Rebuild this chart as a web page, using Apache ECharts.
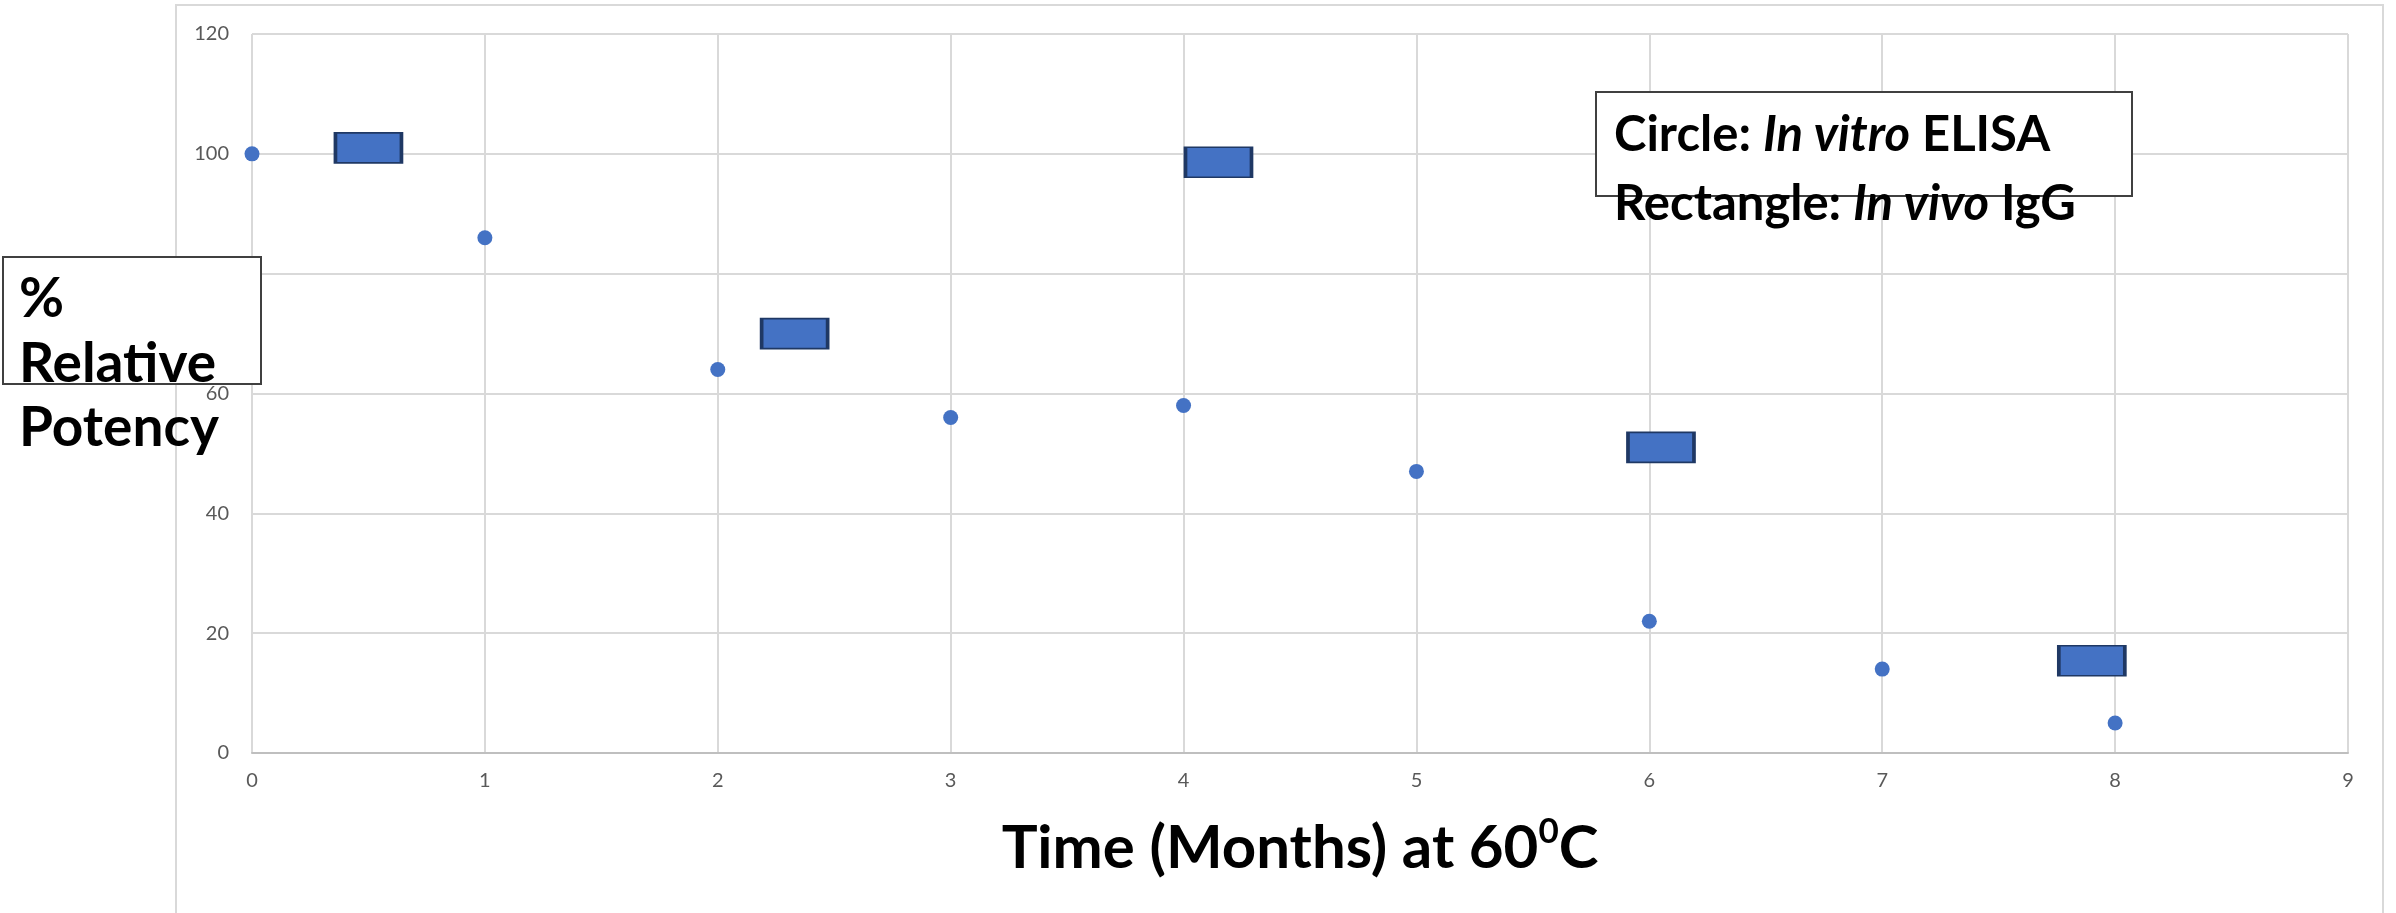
<!DOCTYPE html>
<html>
<head>
<meta charset="utf-8">
<script src="https://cdn.jsdelivr.net/npm/echarts@6/dist/echarts.min.js"></script>
<style>
html,body{margin:0;padding:0;background:#fff;}
#chart{width:2396px;height:913px;}
</style>
</head>
<body>
<div id="chart"></div>
<script>
// Data
const elisaMonths = [0, 1, 2, 3, 4, 5, 6, 7, 8];
const elisaPotency = [100, 86, 64, 56, 58, 47, 22, 14, 5];
const iggMonths = [0.5, 2.33, 4.15, 6.05, 7.9];
const iggPotency = [101, 70, 98.6, 51, 15.4];
const xTicks = [0, 1, 2, 3, 4, 5, 6, 7, 8, 9];
const yTicks = [0, 20, 40, 60, 80, 100, 120];
const xTitle = ['Time (Months) at 60', '0', 'C'];
const yTitleLines = ['%', 'Relative', 'Potency'];
const legendLines = [
  ['Circle: ', 'In vitro', ' ELISA'],
  ['Rectangle: ', 'In vivo', ' IgG']
];

const chart = echarts.init(document.getElementById('chart'));
const FONT = 'Lato, "Open Sans", sans-serif';

const option = {
  backgroundColor: '#fff',
  animation: false,
  grid: { left: 252, top: 34, right: 48, bottom: 160, containLabel: false },
  xAxis: {
    type: 'value',
    min: xTicks[0], max: xTicks[xTicks.length - 1], interval: 1,
    axisLine: { show: true, lineStyle: { color: '#bfbfbf', width: 2 } },
    axisTick: { show: false },
    splitLine: { show: true, lineStyle: { color: '#d9d9d9', width: 2 } },
    axisLabel: { color: '#595959', fontSize: 20, margin: 18, fontFamily: FONT },
    name: '{b|' + xTitle[0] + '}{s|' + xTitle[1] + '}{b|' + xTitle[2] + '}',
    nameLocation: 'middle',
    nameGap: 61,
    nameTextStyle: {
      rich: {
        b: { fontSize: 60, fontWeight: 'bold', color: '#000', fontFamily: FONT, lineHeight: 70 },
        s: { fontSize: 35, fontWeight: 'bold', color: '#000', fontFamily: FONT, verticalAlign: 'top', lineHeight: 70, padding: [0, 0, 26, 0] }
      }
    }
  },
  yAxis: {
    type: 'value',
    min: yTicks[0], max: yTicks[yTicks.length - 1], interval: 20,
    axisLine: { show: false },
    axisTick: { show: false },
    splitLine: { show: true, lineStyle: { color: '#d9d9d9', width: 2 } },
    axisLabel: { color: '#595959', fontSize: 20, margin: 23, fontFamily: FONT }
  },
  series: [
    {
      name: 'In vitro ELISA',
      type: 'scatter',
      symbol: 'circle',
      symbolSize: 15,
      itemStyle: { color: '#4472C4', opacity: 1 },
      data: elisaMonths.map((m, i) => [m, elisaPotency[i]]),
      z: 3
    },
    {
      name: 'In vivo IgG',
      type: 'scatter',
      symbol: 'rect',
      symbolSize: [66, 30],
      itemStyle: { color: '#4472C4', borderColor: '#1F3864', borderWidth: 2.5, opacity: 1 },
      data: iggMonths.map((m, i) => [m, iggPotency[i]]),
      z: 3
    }
  ],
  graphic: [
    // outer chart frame
    { type: 'rect', z: 0, silent: true, shape: { x: 176, y: 5, width: 2207, height: 1000 },
      style: { fill: 'none', stroke: '#d9d9d9', lineWidth: 2 } },
    // y title box
    { type: 'rect', z: 100, shape: { x: 3, y: 257, width: 258, height: 127 },
      style: { fill: '#fff', stroke: '#404040', lineWidth: 2 } },
    { type: 'text', z: 101, left: 19, top: 272,
      style: { text: yTitleLines[0], fontSize: 55, fontWeight: 'bold', fill: '#000', fontFamily: FONT } },
    { type: 'text', z: 101, left: 19, top: 337,
      style: { text: yTitleLines[1], fontSize: 55, fontWeight: 'bold', fill: '#000', fontFamily: FONT } },
    { type: 'text', z: 101, left: 19, top: 401,
      style: { text: yTitleLines[2], fontSize: 55, fontWeight: 'bold', fill: '#000', fontFamily: FONT } },
    // legend box
    { type: 'rect', z: 100, shape: { x: 1596, y: 92, width: 536, height: 104 },
      style: { fill: '#fff', stroke: '#404040', lineWidth: 2 } },
    { type: 'text', z: 101, left: 1614, top: 111,
      style: {
        text: '{b|' + legendLines[0][0] + '}{i|' + legendLines[0][1] + '}{b|' + legendLines[0][2] + '}',
        rich: {
          b: { fontSize: 49, fontWeight: 'bold', fill: '#000', fontFamily: FONT },
          i: { fontSize: 49, fontWeight: 'bold', fontStyle: 'italic', fill: '#000', fontFamily: FONT }
        }
      } },
    { type: 'text', z: 101, left: 1614, top: 180,
      style: {
        text: '{b|' + legendLines[1][0] + '}{i|' + legendLines[1][1] + '}{b|' + legendLines[1][2] + '}',
        rich: {
          b: { fontSize: 49, fontWeight: 'bold', fill: '#000', fontFamily: FONT },
          i: { fontSize: 49, fontWeight: 'bold', fontStyle: 'italic', fill: '#000', fontFamily: FONT }
        }
      } }
  ]
};
chart.setOption(option);
</script>
</body>
</html>
